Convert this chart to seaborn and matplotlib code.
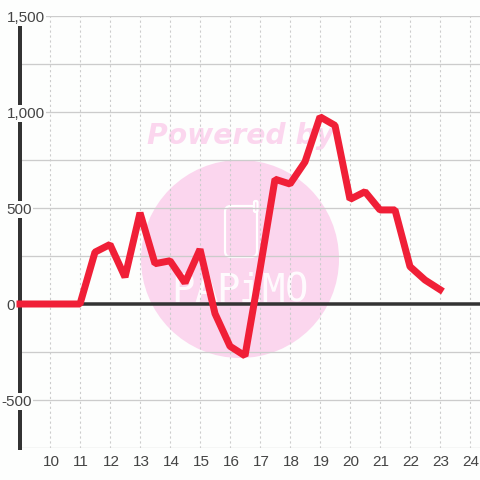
import matplotlib
matplotlib.use("Agg")
import matplotlib.pyplot as plt
from matplotlib.patches import Circle, FancyBboxPatch
from matplotlib.transforms import ScaledTranslation
import seaborn as sns

# --- Data ---
hours = [9, 9.5, 10, 10.5, 11, 11.5, 12, 12.5, 13, 13.5, 14, 14.5, 15, 15.5, 16, 16.5,
         17, 17.5, 18, 18.5, 19, 19.5, 20, 20.5, 21, 21.5, 22, 22.5, 23]
values = [0, 0, 0, 0, 0, 270, 310, 140, 475, 210, 225, 110, 285, -50, -220, -270,
          180, 650, 625, 740, 975, 930, 545, 585, 490, 490, 195, 125, 75]
x_ticks = list(range(10, 25))
y_major = [1500, 1000, 500, 0, -500]
y_major_labels = ["1,500", "1,000", "500", "0", "-500"]
y_grid = [1500, 1250, 1000, 750, 500, 250, -250, -500, -750]

PX = 72 / 100  # points per pixel at dpi 100
INK = "#333333"
TEXT = "#444444"
GRID = "#cccccc"
PINK = "#fbd6ee"
RED = "#f01f37"
BG = "#fdfefd"

sns.set_theme(style="white")
plt.rcParams["font.family"] = ["Liberation Sans", "DejaVu Sans"]

fig = plt.figure(figsize=(4.8, 4.8), dpi=100, facecolor=BG)
ax = fig.add_axes([20 / 480, 32 / 480, 460 / 480, 432 / 480])
ax.patch.set_visible(False)
ax.set_xlim(9, 9 + 460 / 30)
ax.set_ylim(-750, 1500)

# --- Watermark, under the grid ---
fig.add_artist(Circle((240 / 480, 1 - 259 / 480), 99 / 480, transform=fig.transFigure,
                      color=PINK, lw=0, zorder=-2))
fig.text(241 / 480, 1 - 135.5 / 480, "Powered by", family="DejaVu Sans", weight="bold",
         style="italic", size=20.3, color=PINK, ha="center", va="center", zorder=-2)
fig.add_artist(FancyBboxPatch((225 / 480, 1 - 257 / 480), 32 / 480, 51 / 480,
                              boxstyle="round,pad=0,rounding_size=0.012",
                              transform=fig.transFigure, fc="none", ec="white",
                              lw=2.2 * PX, zorder=-1.5))
fig.add_artist(FancyBboxPatch((254 / 480, 1 - 212 / 480), 3.5 / 480, 11 / 480,
                              boxstyle="round,pad=0,rounding_size=0.003",
                              transform=fig.transFigure, fc=PINK, ec="white",
                              lw=2.2 * PX, zorder=-1.4))
for i, letter in enumerate("PAPiMO"):
    fig.text((183 + i * 22.6) / 480, 1 - 291 / 480, letter, family="DejaVu Sans Mono",
             size=28, color="white", alpha=0.9, ha="center", va="center", zorder=-1.5)

# --- Grid ---
ax.set_xticks(x_ticks)
ax.set_yticks(y_grid)
ax.set_yticklabels([])
ax.grid(True, axis="y", color=GRID, lw=1.3 * PX, ls="-")
ax.grid(True, axis="x", color=GRID, lw=1.1 * PX, ls=(0, (2, 2.5)))
ax.set_axisbelow(True)
ax.tick_params(axis="both", length=0)
ax.tick_params(axis="x", labelsize=11, labelcolor=TEXT, pad=5)
for label in ax.get_xticklabels():
    label.set_transform(label.get_transform() + ScaledTranslation(1 / 100, 0, fig.dpi_scale_trans))
for side in ["top", "right", "bottom"]:
    ax.spines[side].set_visible(False)
ax.spines["left"].set_linewidth(4 * PX)
ax.spines["left"].set_color(INK)

ax.axhline(0, color=INK, lw=3.5 * PX, zorder=2)

# --- Main series ---
sns.lineplot(x=hours, y=values, color=RED, linewidth=7 * PX, ax=ax, zorder=3,
             errorbar=None, clip_on=False, solid_joinstyle="bevel",
             solid_capstyle="projecting")
ax.set_xlabel("")
ax.set_ylabel("")

# --- y labels sit over the left axis on white boxes ---
trans = ax.get_yaxis_transform()
for val, lab in zip(y_major, y_major_labels):
    x_off = -18.5 if lab.startswith("-") else -13.5
    ax.annotate(lab, (0, val), xycoords=trans, xytext=(x_off * PX, -1.5 * PX),
                textcoords="offset points", ha="left", va="center", size=11,
                color=TEXT, zorder=4 if val != 0 else 2.5, annotation_clip=False,
                bbox=dict(fc=BG, ec="none", pad=1))

plt.savefig("out.png", dpi=100, facecolor=BG)
plt.close()
